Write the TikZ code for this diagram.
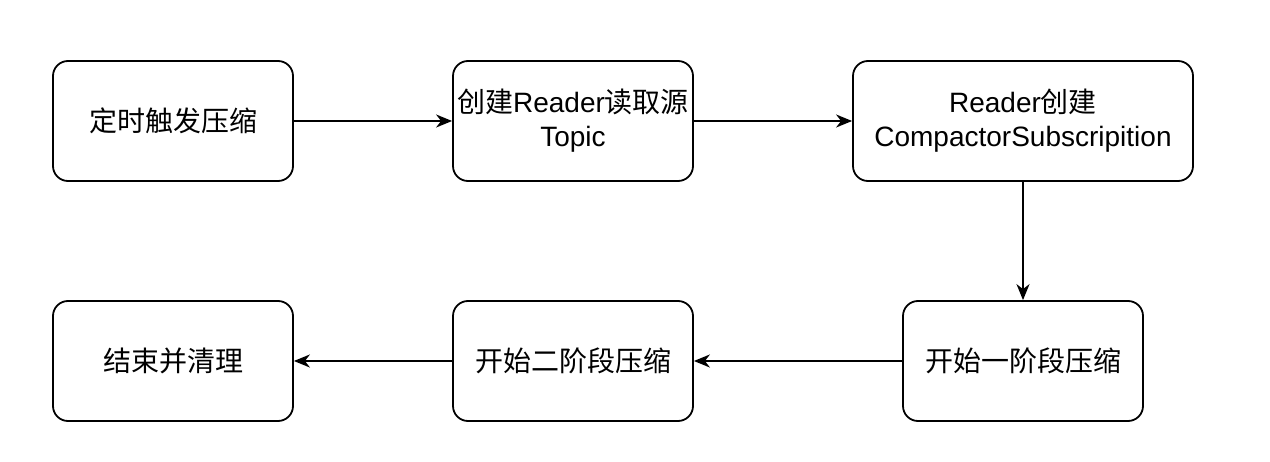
\documentclass[tikz,border=0pt]{standalone}
\usepackage{fontspec}
\setmainfont{Liberation Sans}
\newfontfamily\cjk{Noto Sans CJK SC}
\usetikzlibrary{positioning}
\usetikzlibrary{shapes.geometric, arrows.meta}

\tikzset{
 stepbox/.style={draw, line width=1.8pt, rounded corners=15pt, minimum width=240pt, minimum height=120pt, align=center, inner sep=2pt, font=\fontsize{28}{34}\selectfont},
 flow/.style={line width=1.8pt, -{Stealth[length=16pt,width=13pt,inset=5pt]}}
}

\begin{document}
\begin{tikzpicture}[x=1pt,y=-1pt]

 \useasboundingbox (0,0) rectangle (1270,462);

 \node[stepbox] (timer) at (173,121) {\cjk 定时触发压缩};
 \node[stepbox] (reader) at (573,121) {{\cjk 创建}Reader{\cjk 读取源}\\Topic};
 \node[stepbox, minimum width=340pt] (sub) at (1023,121) {Reader{\cjk 创建}\\CompactorSubscripition};

 \node[stepbox] (phaseone) at (1023,361) {\cjk 开始一阶段压缩};
 \node[stepbox] (phasetwo) at (573,361) {\cjk 开始二阶段压缩};
 \node[stepbox] (cleanup) at (173,361) {\cjk 结束并清理};

 \draw[flow] (timer) -- (reader);
 \draw[flow] (reader) -- (sub);
 \draw[flow] (sub) -- (phaseone);
 \draw[flow] (phaseone) -- (phasetwo);
 \draw[flow] (phasetwo) -- (cleanup);

\end{tikzpicture}
\end{document}
